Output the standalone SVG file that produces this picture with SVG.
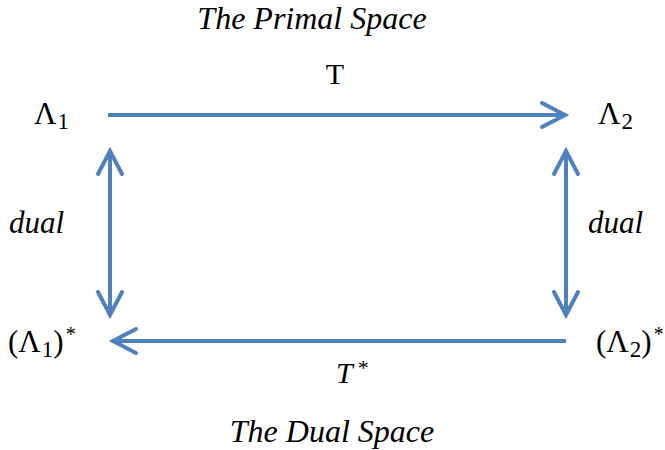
<svg xmlns="http://www.w3.org/2000/svg" width="665" height="450" viewBox="0 0 665 450">
<style>
.t{font-family:"Liberation Serif","DejaVu Serif",serif;fill:#000}
.i{font-style:italic}
.c line{stroke:#4F81BD;stroke-width:4;fill:none}
</style>
<defs>
<marker id="ah" markerUnits="userSpaceOnUse" orient="auto-start-reverse" markerWidth="40" markerHeight="40" refX="0" refY="0" viewBox="-30 -20 40 40" overflow="visible">
<path d="M-24,-12 L-1,0 L-24,12" fill="none" stroke="#4F81BD" stroke-width="4" stroke-linejoin="miter" stroke-linecap="round"/>
</marker>
</defs>
<rect width="665" height="450" fill="#fff"/>
<g class="c" id="connectors">
<line x1="108" y1="115" x2="566" y2="115" marker-end="url(#ah)"/>
<line x1="566" y1="341" x2="112" y2="341" marker-end="url(#ah)"/>
<line x1="110" y1="150" x2="110" y2="316" marker-start="url(#ah)" marker-end="url(#ah)"/>
<line x1="566" y1="150" x2="566" y2="316" marker-start="url(#ah)" marker-end="url(#ah)"/>
</g>
<g id="title-primal"><text class="t i" x="312" y="29" font-size="32" text-anchor="middle">The Primal Space</text></g>
<g id="lambda1"><text class="t" x="34" y="124" font-size="31">Λ<tspan font-size="23" dy="5" dx="1">1</tspan></text></g>
<g id="lambda2"><text class="t" x="598" y="124" font-size="31">Λ<tspan font-size="23" dy="5" dx="1">2</tspan></text></g>
<g id="label-T"><text class="t" x="335" y="84" font-size="30" text-anchor="middle">T</text></g>
<g id="dual-left"><text class="t i" x="9" y="233" font-size="31">dual</text></g>
<g id="dual-right"><text class="t i" x="588" y="233" font-size="31">dual</text></g>
<g id="lambda1-star"><text class="t" x="8" y="352" font-size="31">(Λ<tspan font-size="23" dy="5" dx="1">1</tspan><tspan dy="-5">)</tspan><tspan font-size="20" dy="-11" dx="2">*</tspan></text></g>
<g id="lambda2-star"><text class="t" x="596" y="352" font-size="31">(Λ<tspan font-size="23" dy="5" dx="1">2</tspan><tspan dy="-5">)</tspan><tspan font-size="20" dy="-11" dx="2">*</tspan></text></g>
<g id="label-Tstar"><text class="t i" x="336" y="383" font-size="30">T<tspan font-size="22" font-style="normal" dy="-8" dx="5">*</tspan></text></g>
<g id="title-dual"><text class="t i" x="332" y="442" font-size="32" text-anchor="middle">The Dual Space</text></g>
</svg>
